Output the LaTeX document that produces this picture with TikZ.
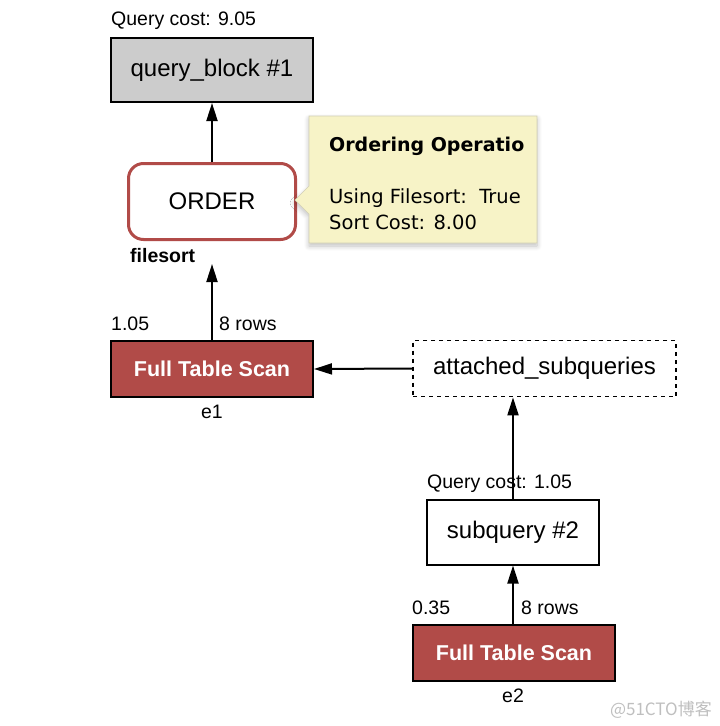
\documentclass[tikz,border=0pt]{standalone}
\usepackage{fontspec}
\setmainfont{Liberation Sans}
\newfontfamily\tipfont{DejaVu Sans}
\newfontfamily\cjkfont{Noto Sans CJK SC}
\usetikzlibrary{arrows.meta,shadows.blur}
\definecolor{scanred}{HTML}{B14B48}
\definecolor{blockgray}{HTML}{CCCCCC}
\definecolor{tipfill}{HTML}{F7F3C7}
\definecolor{tipedge}{HTML}{D2CFB6}
\tikzset{
  box/.style={draw=black, line width=2pt, inner sep=0pt, font=\fontsize{24}{28}\selectfont},
  blockbox/.style={box, fill=blockgray, minimum width=202pt, minimum height=64pt},
  orderbox/.style={draw=scanred, line width=3pt, rounded corners=15pt, fill=white, minimum width=167pt, minimum height=76pt, inner sep=0pt, font=\fontsize{24}{28}\selectfont},
  scanbox/.style={box, fill=scanred, text=white, minimum width=202pt, minimum height=56pt, font=\fontsize{21.5}{25}\bfseries\selectfont},
  subbox/.style={box, fill=white, minimum width=172pt, minimum height=65pt},
  dashbox/.style={draw=black, line width=1.8pt, dash pattern=on 4pt off 4pt, minimum width=263pt, minimum height=56pt, inner sep=0pt, font=\fontsize{24}{28}\selectfont},
  small/.style={inner sep=0pt, font=\fontsize{19.5}{22}\selectfont},
  smallbold/.style={inner sep=0pt, font=\fontsize{19.5}{22}\bfseries\selectfont},
  conn/.style={line width=2pt, -{Triangle[length=18pt,width=11pt]}},
  tip/.style={inner sep=0pt, font=\tipfont\fontsize{19.5}{22}\selectfont},
}
\begin{document}
\begin{tikzpicture}[x=1pt,y=-1pt]
\useasboundingbox (0,0) rectangle (720,726);

% nodes
\node[blockbox] (qb) at (212,70) {query\_block \#1};
\node[small, anchor=base west] (qbcost) at (111,25) {Query cost: 9.05};

\node[orderbox] (order) at (212,201.5) {ORDER};
\node[smallbold, anchor=base west] (fs) at (130,262) {filesort};

\node[scanbox] (e1) at (212,369) {Full Table Scan};
\node[small, anchor=base west] (c1) at (111,330) {1.05};
\node[small, anchor=base west] (r1) at (219,330) {8 rows};
\node[small, anchor=base] (e1lbl) at (212,418) {e1};

\node[dashbox] (att) at (544.5,368.5) {attached\_subqueries};

\node[subbox] (sq) at (513,532) {subquery \#2};
\node[small, anchor=base west] (sqcost) at (427,488) {Query cost: 1.05};

\node[scanbox] (e2) at (514,653) {Full Table Scan};
\node[small, anchor=base west] (c2) at (412,614) {0.35};
\node[small, anchor=base west] (r2) at (521,614) {8 rows};
\node[small, anchor=base] (e2lbl) at (513,702) {e2};

\coordinate (fsend) at (212,264);

% connectors
\draw[conn] (order.north) -- (qb.south);
\draw[conn] (e1.north) -- (fsend);
\draw[conn] (att.west) -- (e1.east);
\draw[conn] (sq.north) -- (sq.north |- att.south);
\draw[conn] (e2.north -| sq.south) -- (sq.south);

% tooltip
\path[fill=tipfill, draw=tipedge, line width=0.6pt, blur shadow={shadow blur steps=8, shadow xshift=0pt, shadow yshift=-3pt, shadow blur radius=5pt, shadow opacity=25}]
  (309,116) -- (537,116) -- (537,243) -- (309,243) -- (309,214) -- (295,200) -- (309,186) -- cycle;
\begin{scope}
\clip (309,116) rectangle (523,243);
\node[tip, anchor=base west, font=\tipfont\fontsize{19}{22}\bfseries\selectfont] (tiptitle) at (329,151) {Ordering Operation};
\end{scope}
\node[tip, anchor=base west] (tip1) at (329,203) {Using Filesort:\ \ True};
\node[tip, anchor=base west] (tip2) at (329,229) {Sort Cost: 8.00};

% watermark
\node[inner sep=0pt, anchor=base east, text=black!25, font=\cjkfont\fontsize{17}{19}\selectfont] (wm) at (712,715) {@51CTO博客};
\end{tikzpicture}
\end{document}
